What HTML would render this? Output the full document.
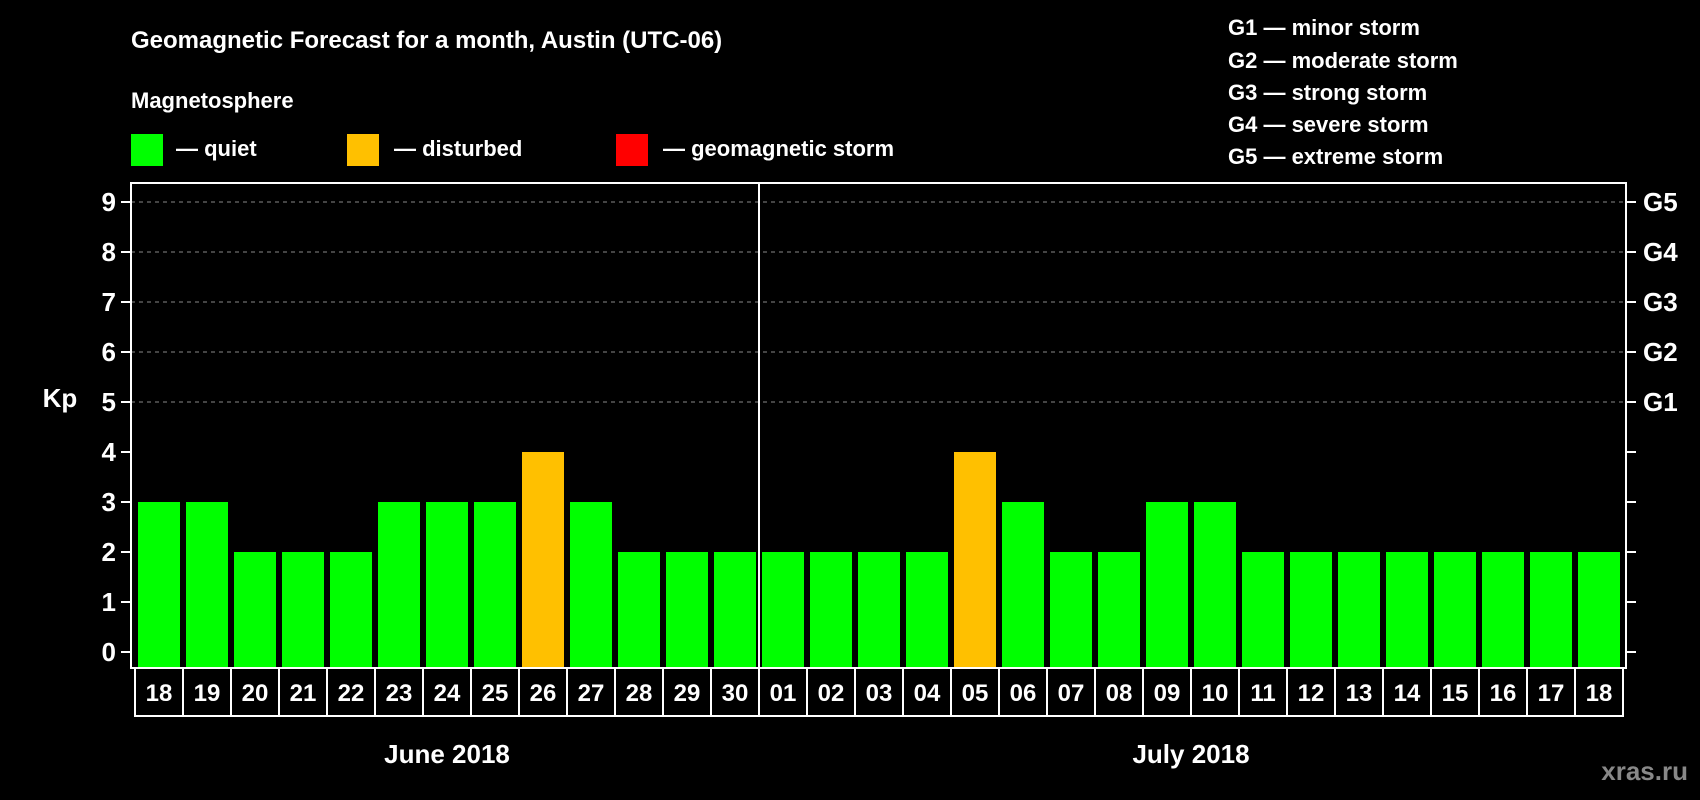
<!DOCTYPE html>
<html><head><meta charset="utf-8"><style>
html,body{margin:0;padding:0;background:#000;}
svg{display:block;font-family:"Liberation Sans",Arial,sans-serif;font-weight:bold;}
</style></head><body>
<svg id="chart" width="1700" height="800" viewBox="0 0 1700 800">
<text x="131" y="48" fill="#fff" font-size="24">Geomagnetic Forecast for a month, Austin (UTC-06)</text>
<text x="131" y="108" fill="#fff" font-size="22">Magnetosphere</text>
<g><rect x="131" y="134" width="32" height="32" fill="#00ff00"/><text x="176" y="156" fill="#fff" font-size="22">— quiet</text></g>
<g><rect x="347" y="134" width="32" height="32" fill="#ffc000"/><text x="394" y="156" fill="#fff" font-size="22">— disturbed</text></g>
<g><rect x="616" y="134" width="32" height="32" fill="#ff0000"/><text x="663" y="156" fill="#fff" font-size="22">— geomagnetic storm</text></g>
<g fill="#fff" font-size="22">
<text x="1228" y="35">G1 — minor storm</text>
<text x="1228" y="68">G2 — moderate storm</text>
<text x="1228" y="100">G3 — strong storm</text>
<text x="1228" y="132">G4 — severe storm</text>
<text x="1228" y="164">G5 — extreme storm</text>
</g>
<text x="60" y="407" fill="#fff" font-size="26" text-anchor="middle">Kp</text>
<text x="1688" y="780" fill="#888" font-size="26" text-anchor="end">xras.ru</text>
<g id="plot"></g>
</svg>
<script>
const days=["18","19","20","21","22","23","24","25","26","27","28","29","30","01","02","03","04","05","06","07","08","09","10","11","12","13","14","15","16","17","18"];
const kp=[3,3,2,2,2,3,3,3,4,3,2,2,2,2,2,2,2,4,3,2,2,3,3,2,2,2,2,2,2,2,2];
const yTicks=[0,1,2,3,4,5,6,7,8,9];
const gLabels=["G1","G2","G3","G4","G5"];
const months=["June 2018","July 2018"];
const monthLengths=[13,18];
const NS="http://www.w3.org/2000/svg";
const g=document.getElementById('plot');
const L=131,R=1626,T=183,B=668,slot0=135,pitch=48;
const y=v=>652-v*50;
const x=i=>slot0+i*pitch;
function mk(t,a,p){const e=document.createElementNS(NS,t);for(const k in a)e.setAttribute(k,a[k]);(p||g).appendChild(e);return e;}
// grid
yTicks.forEach(v=>{
 if(v>=5){const l=mk('line',{x1:L,x2:R,y1:y(v),y2:y(v),stroke:'#888','stroke-dasharray':'4,4','stroke-width':1});
 
 }
 const t1=mk('line',{x1:L-10,x2:L,y1:y(v),y2:y(v),stroke:'#fff','stroke-width':2});
 
 
 const t2=mk('line',{x1:R,x2:R+10,y1:y(v),y2:y(v),stroke:'#fff','stroke-width':2});
 
 
 const tx=mk('text',{x:L-15,y:y(v)+9,fill:'#fff','font-size':26,'text-anchor':'end'});tx.textContent=v;
 
 
});
gLabels.forEach((s,i)=>{const tx=mk('text',{x:1643,y:y(5+i)+9,fill:'#fff','font-size':26});tx.textContent=s;
 
 });
// bars
kp.forEach((v,i)=>{
 const c=v>=5?'#ff0000':(v>=4?'#ffc000':'#00ff00');
 const r=mk('rect',{x:x(i)+3,y:y(v),width:42,height:B-y(v),fill:c});
 
 
 const b=mk('rect',{x:x(i),y:B,width:pitch,height:48,fill:'none',stroke:'#fff','stroke-width':2});
 
 
 const tx=mk('text',{x:x(i)+pitch/2,y:B+33,fill:'#fff','font-size':24,'text-anchor':'middle'});tx.textContent=days[i];
 
 
});
// frame
const f=mk('rect',{x:L,y:T,width:R-L,height:B-T,fill:'none',stroke:'#fff','stroke-width':2});


let start=0;
months.forEach((m,k)=>{
 const n=monthLengths[k];
 if(k>0){const d=mk('line',{x1:x(start),x2:x(start),y1:T,y2:B,stroke:'#fff','stroke-width':2});
 
 }
 const tx=mk('text',{x:(x(start)+x(start+n))/2,y:763,fill:'#fff','font-size':26,'text-anchor':'middle'});tx.textContent=m;
 
 
 start+=n;
});
</script>
</body></html>
